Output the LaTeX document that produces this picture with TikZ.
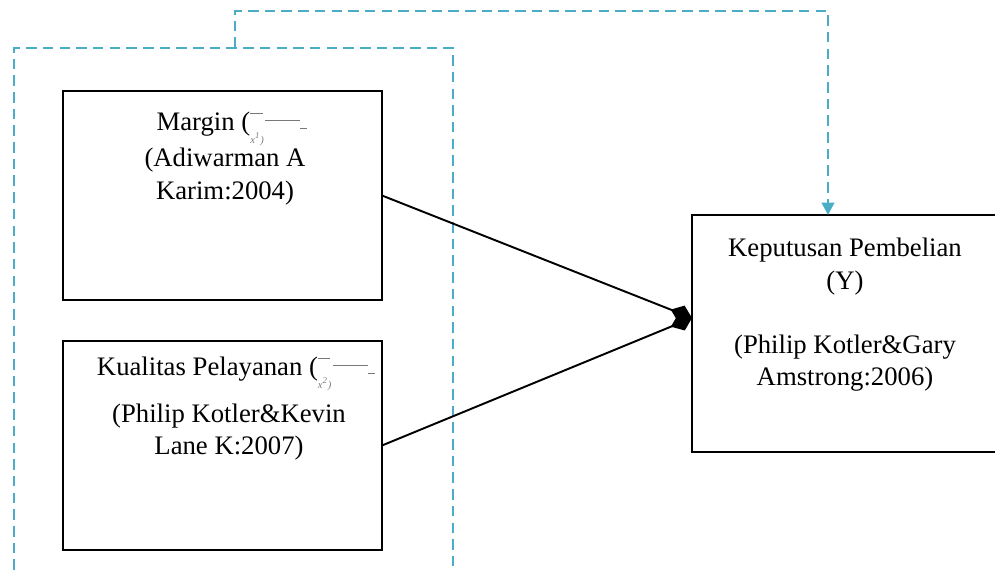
\documentclass[tikz,border=0pt]{standalone}
\usepackage{fontspec}
\setmainfont{Liberation Serif}
\usepackage{xcolor}
\usetikzlibrary{arrows.meta,positioning,calc}
\definecolor{ink}{RGB}{0,0,0}
\definecolor{aqua}{RGB}{75,172,198}
\definecolor{faded}{RGB}{120,120,120}
% small broken equation picture after the variable names
\newcommand{\eqfrag}[1]{\smash{\color{faded}\rlap{\raisebox{-7pt}{\fontsize{6}{6}\selectfont\itshape x\textsuperscript{#1})}}\rule[9.5pt]{7pt}{0.6pt}\hspace{1.5pt}\rule[5.5pt]{20pt}{0.7pt}\rule[1pt]{4pt}{0.6pt}}\kern-8pt}
\tikzset{
  varbox/.style={draw=ink,line width=1.2pt,fill=white,inner sep=0pt,outer sep=0pt},
  grouped/.style={draw=aqua,line width=1.6pt,dash pattern=on 6pt off 3.5pt},
  txt/.style={font=\fontsize{15.2}{18.4}\selectfont,align=center,text=ink,inner sep=0pt},
  effect/.style={-{Diamond[length=13pt,width=10pt]},line width=1.1pt,draw=ink},
  linkarrow/.style={grouped,-{Triangle[length=7pt,width=7pt]}}
}

\begin{document}
\begin{tikzpicture}[x=0.02cm,y=-0.02cm]
  \useasboundingbox (0,0) rectangle (995,571);
  \clip (0,0) rectangle (995,571);

  % dashed frame round X1 and X2
  \draw[grouped] (14,620) -- (14,48) -- (453,48) -- (453,620);
  \coordinate (tap) at (235,48);

  \node[varbox,minimum width=6.38cm,minimum height=4.18cm] (margin) at (222.5,195.5) {};
  \node[varbox,minimum width=6.38cm,minimum height=4.18cm] (pelayanan) at (222.5,445.5) {};
  \node[varbox,minimum width=6.26cm,minimum height=4.74cm] (keputusan) at (848.5,333.5) {};

  \node[txt,anchor=north] (margintxt) at (225,112) {
    Margin (\eqfrag{1}\\[2pt]
    (Adiwarman A\\
    Karim:2004)
  };
  \node[txt,anchor=north] (pelayanantxt) at (229,357) {
    Kualitas Pelayanan (\eqfrag{2}\\[8pt]
    (Philip Kotler\&Kevin\\
    Lane K:2007)
  };
  \node[txt,anchor=north] (keputusantxt) at (845,238) {
    Keputusan Pembelian\\
    (Y)\\[18pt]
    (Philip Kotler\&Gary\\
    Amstrong:2006)
  };

  \coordinate (kjoin) at (692,318);
  \coordinate (kin) at (828,215);

  \draw[effect] (margin.east) -- (kjoin);
  \draw[effect] (pelayanan.east) -- (kjoin);
  \draw[linkarrow] (tap) -- (tap |- 0,11) -| (kin);
\end{tikzpicture}
\end{document}
